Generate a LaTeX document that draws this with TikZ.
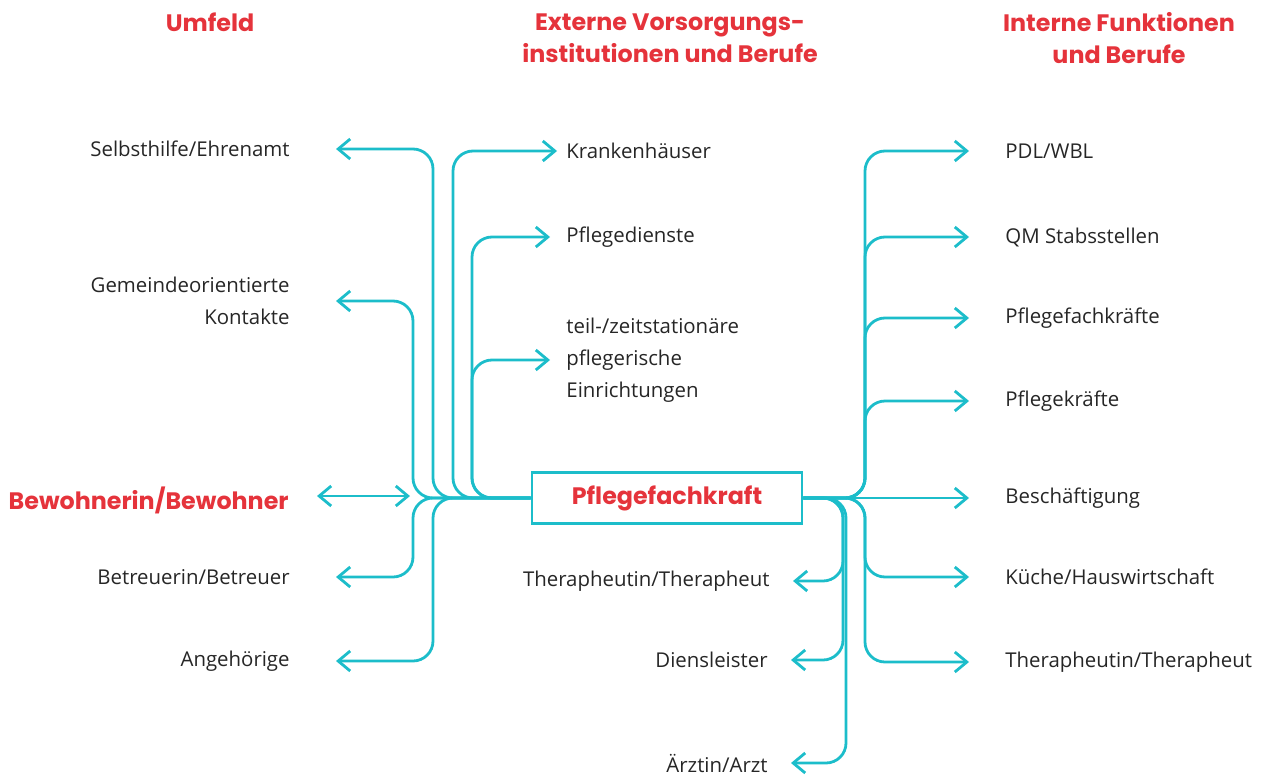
\documentclass[tikz,border=0pt]{standalone}
\usepackage{fontspec}
\setmainfont{Open Sans}
\newfontfamily\redfont{Poppins}
\usetikzlibrary{arrows.meta}
\definecolor{lcyan}{HTML}{1CBDCA}
\definecolor{lred}{HTML}{E5333B}
\definecolor{ltext}{HTML}{262626}

\begin{document}
\begin{tikzpicture}[x=0.5pt,y=-0.5pt]
	\newcommand\rad{10pt}
	\newcommand\gapl{23pt}
	\newcommand\gapm{8pt}
	\newcommand\gapb{11.5pt}
	\newcommand\gapr{18pt}
	\tikzset{
		every node/.style = {inner sep=0pt, text=ltext, font=\fontsize{10.2}{16}\selectfont},
		head/.style = {align=center, text=lred, font=\redfont\bfseries\fontsize{11.9}{16}\selectfont},
		box/.style = {draw=lcyan, line width=1.4pt, minimum width=135pt, minimum height=25.5pt,
			text=lred, font=\redfont\bfseries\fontsize{11.9}{12}\selectfont},
		link/.style = {draw=lcyan, line width=1.4pt, rounded corners=\rad,
			-{Straight Barb[length=6pt, width=10pt]}},
		both/.style = {link, {Straight Barb[length=6pt, width=10pt]}-{Straight Barb[length=6pt, width=10pt]}},
	}
	\useasboundingbox (0,0) rectangle (1263,776);

	% column heads
	\node[head] (h1) at (210,22) {Umfeld};
	\node[head] (h2) at (670,38) {Externe Vorsorgungs-\\institutionen und Berufe};
	\node[head] (h3) at (1119,38) {Interne Funktionen\\und Berufe};

	% centre
	\node[box] (pfk) at (667,498) {Pflegefachkraft};

	% umfeld
	\node[anchor=east] (sh) at (290,149) {Selbsthilfe/Ehrenamt};
	\node[anchor=east, align=right] (gk) at (290,301) {Gemeindeorientierte\\Kontakte};
	\node[anchor=east, text=lred, font=\redfont\bfseries\fontsize{11.9}{12}\selectfont] (bw) at (289,500) {Bewohnerin/Bewohner};
	\node[anchor=east] (bt) at (290,577) {Betreuerin/Betreuer};
	\node[anchor=east] (ag) at (290,661) {Angehörige};

	% externe
	\node[anchor=west] (kh) at (566,151) {Krankenhäuser};
	\node[anchor=west] (pd) at (566,237) {Pflegedienste};
	\node[anchor=west, align=left] (tz) at (566,360) {teil-/zeitstationäre\\pflegerische\\Einrichtungen};
	\node[anchor=east] (th1) at (770,581) {Therapheutin/Therapheut};
	\node[anchor=east] (dl) at (768,660) {Diensleister};
	\node[anchor=east] (ar) at (768,763) {Ärztin/Arzt};

	% interne
	\node[anchor=west] (pdl) at (1005,151) {PDL/WBL};
	\node[anchor=west] (qm) at (1005,237) {QM Stabsstellen};
	\node[anchor=west] (pf) at (1005,318) {Pflegefachkräfte};
	\node[anchor=west] (pk) at (1005,401) {Pflegekräfte};
	\node[anchor=west] (bs) at (1005,498) {Beschäftigung};
	\node[anchor=west] (kue) at (1005,577) {Küche/Hauswirtschaft};
	\node[anchor=west] (th2) at (1005,662) {Therapheutin/Therapheut};

	% trunk lines
	\coordinate (tgk) at (413,0);
	\coordinate (tsh) at (433,0);
	\coordinate (tkh) at (453,0);
	\coordinate (tpd) at (472,0);
	\coordinate (tth) at (843,0);
	\coordinate (tar) at (846,0);
	\coordinate (tr) at (865,0);
	\coordinate (bwe) at (410,496);

	\draw[link, shorten >=\gapl] (pfk.west) -| (tsh |- sh.east) -- (sh.east);
	\draw[link, shorten >=\gapl] (pfk.west) -| (tgk |- gk.east) -- (gk.east);
	\draw[link, shorten >=\gapl] (pfk.west) -| (tgk |- bt.east) -- (bt.east);
	\draw[link, shorten >=\gapl] (pfk.west) -| (tsh |- ag.east) -- (ag.east);
	\draw[both, shorten <=14pt] (bwe -| bw.east) -- (bwe);

	\draw[link, shorten >=4.5pt] (pfk.west) -| (tkh |- kh.west) -- (kh.west);
	\draw[link, shorten >=\gapm] (pfk.west) -| (tpd |- pd.west) -- (pd.west);
	\draw[link, shorten >=\gapm] (pfk.west) -| (tpd |- tz.west) -- (tz.west);

	\draw[link, shorten >=\gapb] (pfk.east) -| (tth |- th1.east) -- (th1.east);
	\draw[link, shorten >=\gapb] (pfk.east) -| (tth |- dl.east) -- (dl.east);
	\draw[link, shorten >=\gapb] (pfk.east) -| (tar |- ar.east) -- (ar.east);

	\draw[link, shorten >=\gapr] (pfk.east) -| (tr |- pdl.west) -- (pdl.west);
	\draw[link, shorten >=\gapr] (pfk.east) -| (tr |- qm.west) -- (qm.west);
	\draw[link, shorten >=\gapr] (pfk.east) -| (tr |- pf.west) -- (pf.west);
	\draw[link, shorten >=\gapr] (pfk.east) -| (tr |- pk.west) -- (pk.west);
	\draw[link, shorten >=\gapr] (pfk.east) -- (pfk.east -| bs.west);
	\draw[link, shorten >=\gapr] (pfk.east) -| (tr |- kue.west) -- (kue.west);
	\draw[link, shorten >=\gapr] (pfk.east) -| (tr |- th2.west) -- (th2.west);
\end{tikzpicture}
\end{document}
